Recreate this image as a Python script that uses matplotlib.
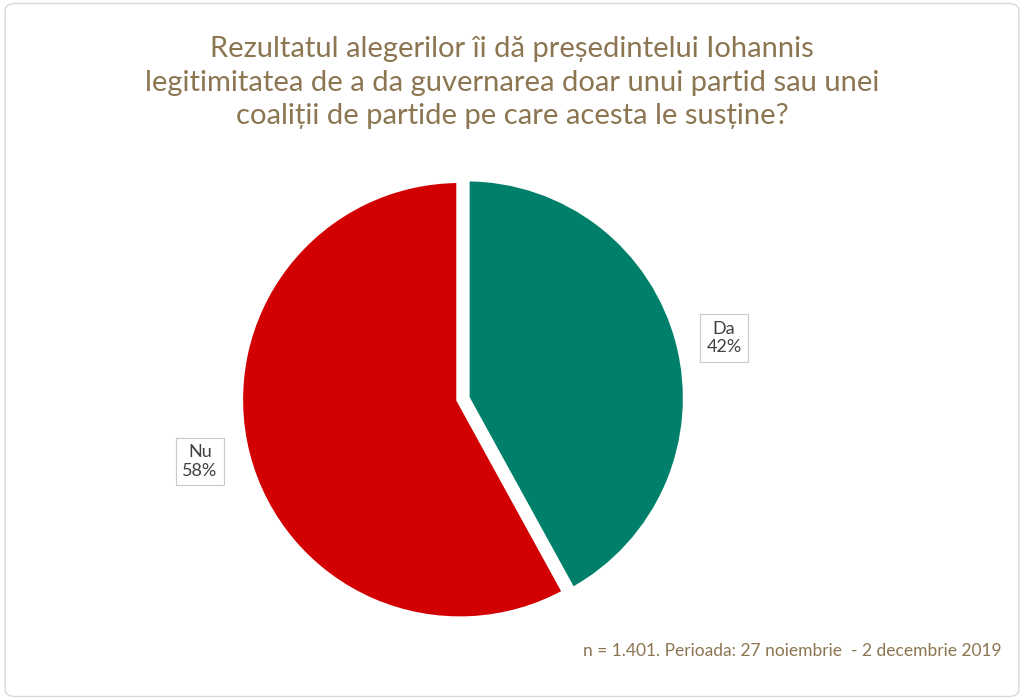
import matplotlib
matplotlib.use("Agg")
import matplotlib.pyplot as plt
from matplotlib.patches import FancyBboxPatch

labels = ["Da", "Nu"]
values = [42, 58]
colors = ["#00806A", "#D20000"]

plt.rcParams['font.family'] = ['Lato', 'DejaVu Sans']
fig = plt.figure(figsize=(10.24, 7), dpi=100)
fig.patches.append(FancyBboxPatch((0.005, 0.005), 0.99, 0.99, boxstyle="round,pad=0,rounding_size=0.01",
                                  transform=fig.transFigure, fill=False, ec="#D9D9D9", lw=1))
fig.text(0.5, 0.882, "Rezultatul alegerilor îi dă președintelui Iohannis\nlegitimitatea de a da guvernarea doar unui partid sau unei\ncoaliții de partide pe care acesta le susține?",
         ha="center", va="center", fontsize=21, color="#8C7551", linespacing=1.35)

ax = fig.add_axes([0.449 - 0.215, 0.429 - 0.3145, 0.43, 0.629])
wedges, _ = ax.pie(values, colors=colors, startangle=90, counterclock=False,
                   explode=[0.03, 0.0], wedgeprops=dict(edgecolor="white", linewidth=5))
ax.set_xlim(-1.0, 1.0)
ax.set_ylim(-1.0, 1.0)
ax.set_aspect('equal')
bbox = dict(boxstyle="square,pad=0.35", fc="white", ec="#C8C8C8", lw=0.8)
ax.text(1.2, 0.28, f"{labels[0]}\n{values[0]}%", ha="center", va="center", fontsize=13, color="#404040", bbox=bbox)
ax.text(-1.18, -0.28, f"{labels[1]}\n{values[1]}%", ha="center", va="center", fontsize=13, color="#404040", bbox=bbox)

fig.text(0.978, 0.07, "n = 1.401. Perioada: 27 noiembrie  - 2 decembrie 2019", ha="right", va="center",
         fontsize=12.5, color="#8C7551")
fig.savefig("out.png", dpi=100, facecolor="white")
